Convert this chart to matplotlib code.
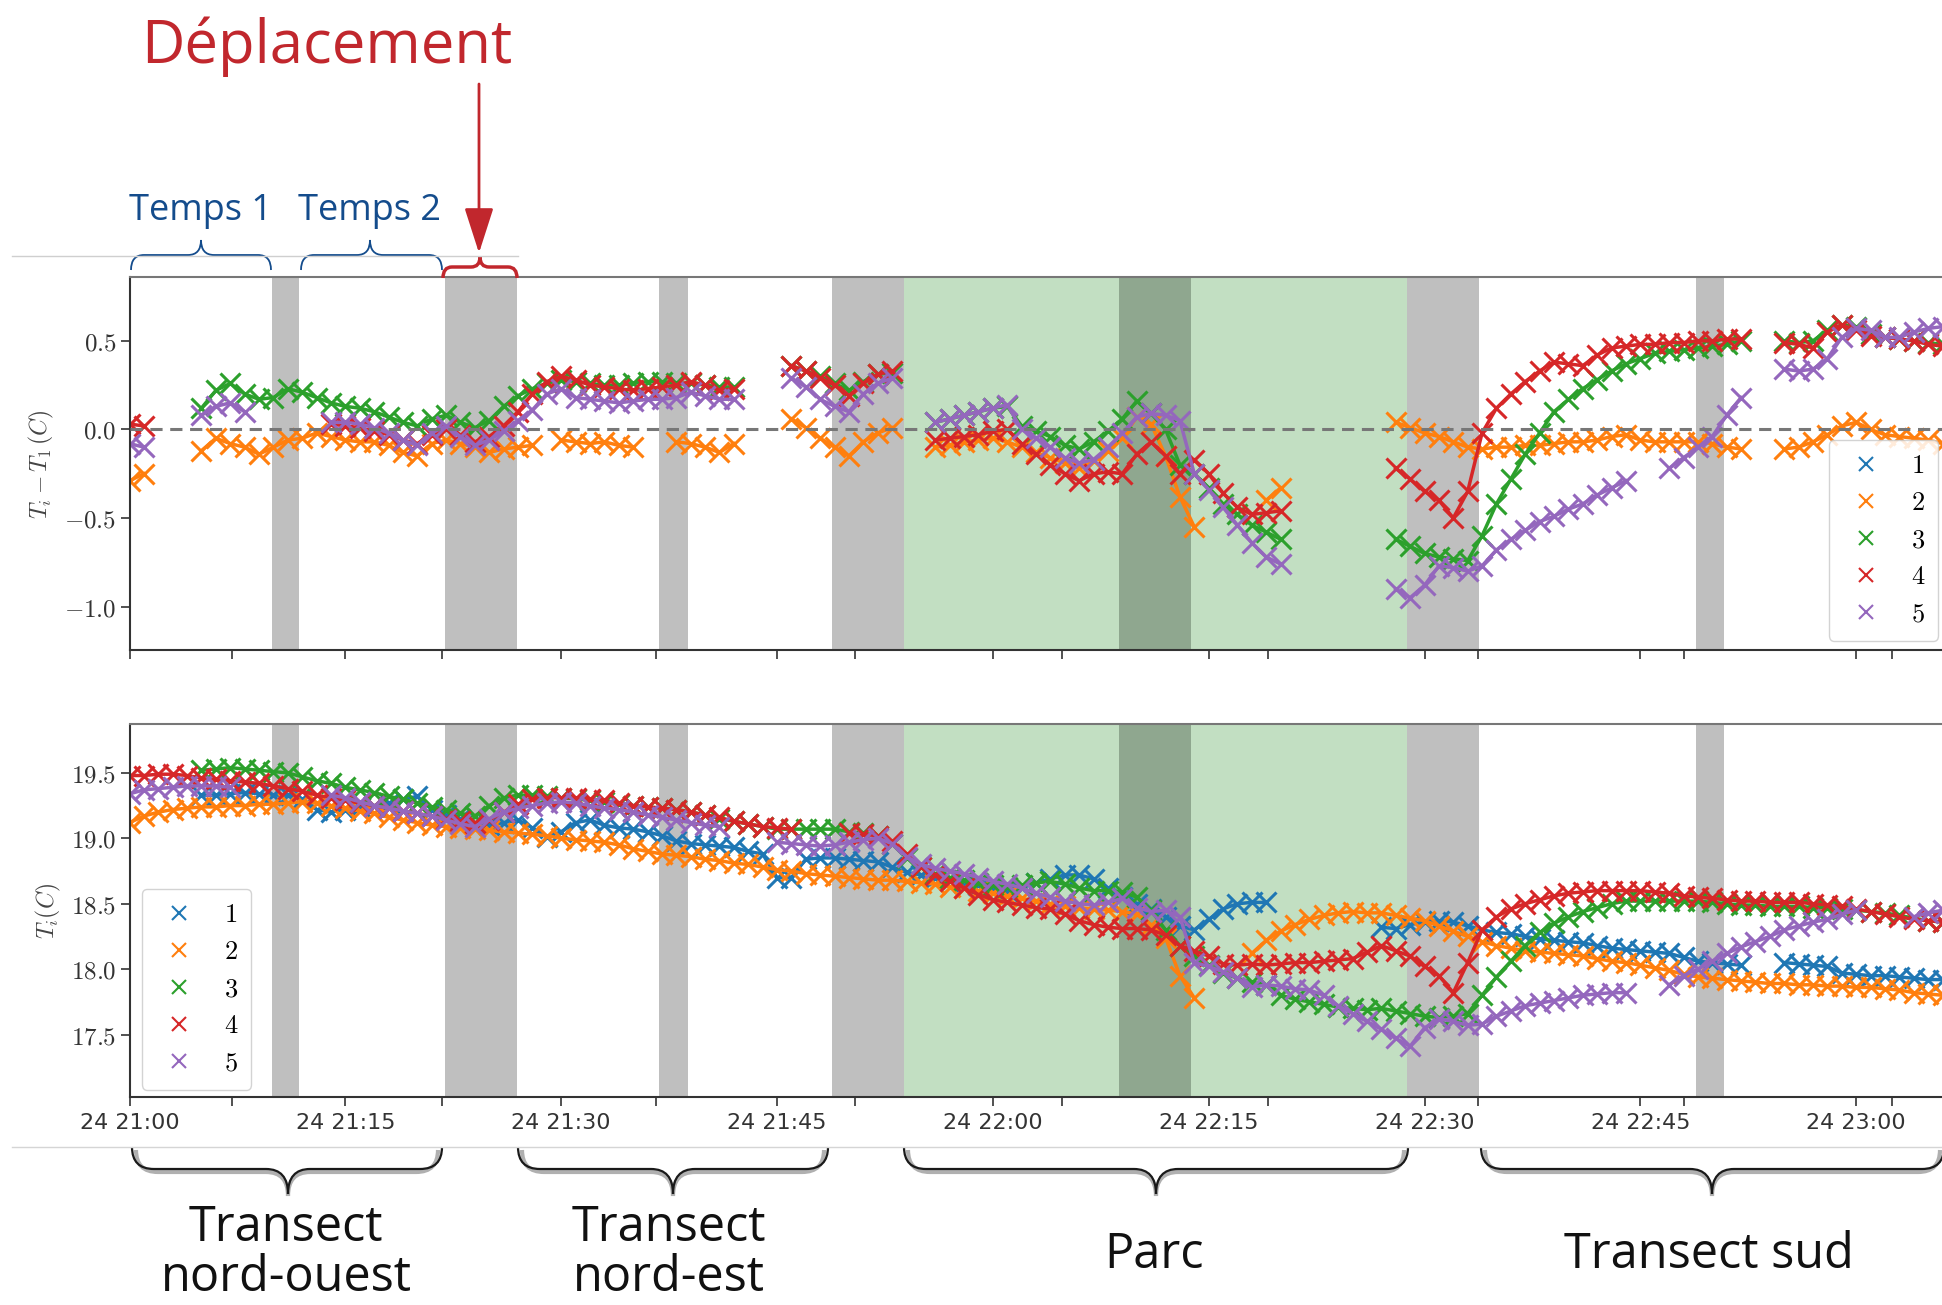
"""Two-panel temperature transect plot with the field-campaign annotations."""
import matplotlib

matplotlib.use("Agg")
import matplotlib.dates as mdates
import matplotlib.pyplot as plt
import numpy as np
from matplotlib.lines import Line2D
from matplotlib.patches import PathPatch
from matplotlib.path import Path
from matplotlib.ticker import FixedLocator, FuncFormatter

plt.rcParams["mathtext.fontset"] = "cm"

nan = float("nan")
START = np.datetime64("2019-07-24T21:00")
MINUTES = np.arange(127)  # one reading per minute, 21:00 -> 23:06

COLORS = ["#1f77b4", "#ff7f0e", "#2ca02c", "#d62728", "#9467bd"]
LABELS = ["1", "2", "3", "4", "5"]

# ---- top panel: T_i - T_1 (deg C) ----
TOP_2 = [
    -0.29, -0.25, nan, nan, nan, -0.12, -0.05, -0.08, -0.10, -0.14,
    -0.10, -0.06, -0.05, -0.02, -0.04, -0.06, -0.07, -0.07, -0.09, -0.13,
    -0.15, -0.08, -0.06, -0.08, -0.10, -0.13, -0.11, -0.10, -0.09, nan,
    -0.06, -0.07, -0.08, -0.07, -0.09, -0.10, nan, nan, -0.07, -0.08,
    -0.10, -0.13, -0.08, nan, nan, nan, 0.06, 0.01, -0.05, -0.10,
    -0.15, -0.07, -0.02, 0.01, nan, nan, -0.10, -0.09, -0.07, -0.06,
    -0.05, -0.07, -0.10, -0.13, -0.16, -0.19, -0.22, -0.18, -0.12, -0.05,
    0.07, 0.03, -0.15, -0.38, -0.55, nan, nan, nan, nan, -0.40,
    -0.33, nan, nan, nan, nan, nan, nan, nan, 0.04, 0.01,
    -0.02, -0.04, -0.07, -0.10, -0.11, -0.10, -0.10, -0.09, -0.09, -0.08,
    -0.07, -0.07, -0.06, -0.04, -0.03, -0.06, -0.07, -0.07, -0.07, -0.07,
    -0.08, -0.10, -0.11, nan, nan, -0.11, -0.10, -0.07, -0.03, 0.02,
    0.04, 0.00, -0.03, -0.04, -0.05, -0.06, -0.08,
]
TOP_3 = [
    nan, nan, nan, nan, nan, 0.12, 0.22, 0.26, 0.20, 0.17,
    0.18, 0.23, 0.21, 0.18, 0.15, 0.13, 0.12, 0.10, 0.07, 0.04,
    0.02, 0.06, 0.08, 0.04, 0.01, 0.05, 0.13, 0.19, 0.23, 0.26,
    0.28, 0.27, 0.26, 0.25, 0.25, 0.26, 0.27, 0.27, 0.26, 0.26,
    0.25, 0.24, 0.24, nan, nan, nan, 0.36, 0.33, 0.30, 0.26,
    0.22, 0.27, 0.31, 0.32, nan, nan, 0.04, 0.06, 0.08, 0.10,
    0.12, 0.13, 0.02, -0.01, -0.04, -0.09, -0.11, -0.07, -0.01, 0.06,
    0.16, 0.09, 0.00, -0.20, -0.25, -0.33, -0.42, -0.48, -0.54, -0.58,
    -0.62, nan, nan, nan, nan, nan, nan, nan, -0.62, -0.66,
    -0.70, -0.72, -0.73, -0.74, -0.60, -0.42, -0.28, -0.14, -0.02, 0.10,
    0.17, 0.23, 0.28, 0.33, 0.37, 0.40, 0.43, 0.44, 0.45, 0.46,
    0.47, 0.48, 0.50, nan, nan, 0.50, 0.49, 0.50, 0.56, 0.59,
    0.58, 0.54, 0.52, 0.51, 0.50, 0.49, 0.48,
]
TOP_4 = [
    0.03, 0.02, nan, nan, nan, nan, nan, nan, nan, nan,
    nan, nan, nan, nan, 0.03, 0.02, 0.01, -0.01, -0.03, -0.06,
    -0.08, -0.03, 0.00, -0.03, -0.07, -0.04, 0.02, 0.10, 0.20, 0.27,
    0.30, 0.28, 0.25, 0.24, 0.23, 0.22, 0.23, 0.24, 0.25, 0.27,
    0.25, 0.22, 0.23, nan, nan, nan, 0.36, 0.33, 0.29, 0.25,
    0.19, 0.26, 0.31, 0.33, nan, nan, -0.06, -0.05, -0.04, -0.03,
    -0.01, 0.00, -0.08, -0.14, -0.20, -0.25, -0.29, -0.25, -0.24, -0.25,
    -0.14, -0.07, -0.15, -0.25, -0.17, -0.25, -0.36, -0.44, -0.48, -0.47,
    -0.46, nan, nan, nan, nan, nan, nan, nan, -0.22, -0.28,
    -0.35, -0.40, -0.50, -0.35, -0.02, 0.12, 0.20, 0.27, 0.33, 0.38,
    0.37, 0.36, 0.42, 0.46, 0.47, 0.48, 0.48, 0.49, 0.49, 0.50,
    0.50, 0.51, 0.51, nan, nan, 0.49, 0.48, 0.46, 0.55, 0.59,
    0.56, 0.53, 0.52, 0.51, 0.50, 0.48, 0.47,
]
TOP_5 = [
    -0.08, -0.10, nan, nan, nan, 0.08, 0.13, 0.15, 0.10, nan,
    nan, nan, nan, nan, 0.04, 0.04, 0.03, 0.01, -0.02, -0.06,
    -0.09, -0.02, 0.02, -0.04, -0.09, -0.06, -0.01, 0.05, 0.11, 0.20,
    0.23, 0.18, 0.17, 0.16, 0.15, 0.16, 0.17, 0.17, 0.18, 0.21,
    0.19, 0.17, 0.17, nan, nan, nan, 0.29, 0.24, 0.17, 0.13,
    0.10, 0.20, 0.26, 0.29, nan, nan, 0.04, 0.06, 0.08, 0.10,
    0.12, 0.14, 0.00, -0.05, -0.10, -0.16, -0.19, -0.17, -0.10, -0.02,
    0.07, 0.09, 0.08, 0.05, -0.25, -0.34, -0.44, -0.54, -0.64, -0.72,
    -0.76, nan, nan, nan, nan, nan, nan, nan, -0.90, -0.95,
    -0.88, -0.77, -0.78, -0.80, -0.77, -0.68, -0.62, -0.57, -0.52, -0.49,
    -0.45, -0.42, -0.37, -0.33, -0.29, nan, nan, -0.22, -0.16, -0.10,
    -0.04, 0.08, 0.18, nan, nan, 0.34, 0.33, 0.34, 0.40, 0.52,
    0.57, 0.56, 0.52, 0.52, 0.55, 0.57, 0.58,
]

# ---- bottom panel: T_i (deg C) ----
BOT_1 = [
    nan, nan, nan, nan, nan, 19.33, 19.33, 19.34, 19.35, 19.34,
    19.33, 19.33, 19.30, 19.22, 19.20, 19.22, 19.24, 19.25, 19.27, 19.30,
    19.32, 19.22, 19.18, 19.15, 19.12, 19.10, 19.12, 19.14, 19.08, 19.01,
    19.05, 19.12, 19.14, 19.10, 19.08, 19.07, 19.05, 19.02, 18.98, 18.96,
    18.95, 18.94, 18.93, 18.90, 18.88, 18.70, 18.70, 18.84, 18.85, 18.85,
    18.84, 18.83, 18.82, 18.78, 18.74, 18.72, 18.70, 18.68, 18.66, 18.64,
    18.62, 18.60, 18.62, 18.66, 18.69, 18.72, 18.72, 18.69, 18.62, 18.55,
    18.50, 18.46, 18.40, 18.33, 18.30, 18.38, 18.46, 18.50, 18.51, 18.51,
    nan, nan, nan, nan, nan, nan, nan, 18.32, 18.31, 18.34,
    18.36, 18.37, 18.36, 18.33, 18.30, 18.28, 18.27, 18.25, 18.23, 18.22,
    18.21, 18.20, 18.18, 18.16, 18.15, 18.14, 18.13, 18.12, 18.09, 18.06,
    18.05, 18.04, 18.03, nan, nan, 18.05, 18.04, 18.03, 18.02, 17.97,
    17.96, 17.95, 17.95, 17.94, 17.93, 17.92, 17.92,
]
BOT_2 = [
    19.12, 19.17, 19.20, 19.22, 19.23, 19.24, 19.24, 19.25, 19.25, 19.26,
    19.26, 19.27, 19.28, 19.27, 19.25, 19.23, 19.21, 19.19, 19.16, 19.14,
    19.12, 19.10, 19.09, 19.08, 19.07, 19.06, 19.05, 19.04, 19.03, 19.02,
    19.00, 18.99, 18.98, 18.97, 18.95, 18.92, 18.90, 18.88, 18.87, 18.86,
    18.84, 18.83, 18.81, 18.80, 18.78, 18.76, 18.75, 18.73, 18.72, 18.71,
    18.70, 18.69, 18.68, 18.68, 18.67, 18.66, 18.65, 18.63, 18.62, 18.60,
    18.58, 18.56, 18.54, 18.52, 18.50, 18.48, 18.47, 18.46, 18.45, 18.44,
    18.42, 18.34, 18.24, 17.95, 17.78, nan, nan, nan, 18.12, 18.22,
    18.29, 18.34, 18.38, 18.41, 18.43, 18.44, 18.43, 18.43, 18.41, 18.39,
    18.37, 18.33, 18.29, 18.25, 18.21, 18.18, 18.16, 18.14, 18.13, 18.12,
    18.11, 18.10, 18.08, 18.06, 18.05, 18.03, 18.01, 17.99, 17.96, 17.94,
    17.93, 17.92, 17.91, 17.90, 17.89, 17.89, 17.88, 17.88, 17.87, 17.87,
    17.86, 17.86, 17.85, 17.84, 17.82, 17.81, 17.80,
]
BOT_3 = [
    nan, nan, nan, nan, nan, 19.52, 19.53, 19.54, 19.53, 19.52,
    19.51, 19.50, 19.47, 19.44, 19.42, 19.39, 19.37, 19.35, 19.32, 19.30,
    19.27, 19.24, 19.22, 19.19, 19.17, 19.25, 19.31, 19.33, 19.33, 19.32,
    19.31, 19.30, 19.29, 19.28, 19.26, 19.25, 19.24, 19.23, 19.22, 19.20,
    19.18, 19.15, 19.13, 19.11, 19.09, 19.07, 19.07, 19.07, 19.07, 19.07,
    19.05, 19.04, 19.02, 18.96, 18.85, 18.78, 18.73, 18.70, 18.68, 18.66,
    18.64, 18.63, 18.64, 18.66, 18.67, 18.65, 18.62, 18.60, 18.60, 18.59,
    18.55, 18.45, 18.30, 18.18, 18.10, 18.03, 17.97, 17.93, 17.90, 17.88,
    17.80, 17.77, 17.75, 17.73, 17.71, 17.70, 17.69, 17.70, 17.68, 17.66,
    17.64, 17.63, 17.64, 17.66, 17.80, 17.94, 18.06, 18.18, 18.28, 18.35,
    18.40, 18.44, 18.47, 18.50, 18.52, 18.52, 18.52, 18.52, 18.52, 18.52,
    18.51, 18.50, 18.49, 18.49, 18.48, 18.48, 18.48, 18.47, 18.47, 18.46,
    18.45, 18.44, 18.43, 18.41, 18.39, 18.37, 18.36,
]
BOT_4 = [
    19.48, 19.48, 19.49, 19.49, 19.48, 19.46, 19.45, 19.44, 19.43, 19.42,
    19.40, 19.38, 19.36, 19.33, 19.31, 19.29, 19.27, 19.25, 19.23, 19.21,
    19.19, 19.17, 19.15, 19.13, 19.12, 19.14, 19.20, 19.26, 19.30, 19.31,
    19.31, 19.31, 19.30, 19.29, 19.27, 19.25, 19.24, 19.23, 19.22, 19.20,
    19.18, 19.16, 19.13, 19.11, 19.09, 19.08, 19.07, nan, nan, nan,
    19.04, 19.03, 19.02, 18.98, 18.88, 18.78, 18.72, 18.67, 18.62, 18.57,
    18.53, 18.51, 18.49, 18.47, 18.46, 18.42, 18.37, 18.34, 18.32, 18.31,
    18.31, 18.30, 18.26, 18.18, 18.14, 18.10, 18.04, 18.03, 18.04, 18.03,
    18.04, 18.05, 18.05, 18.06, 18.07, 18.08, 18.13, 18.18, 18.14, 18.10,
    18.02, 17.95, 17.82, 18.05, 18.30, 18.40, 18.46, 18.50, 18.53, 18.56,
    18.58, 18.59, 18.60, 18.60, 18.60, 18.60, 18.59, 18.58, 18.56, 18.55,
    18.54, 18.53, 18.52, 18.52, 18.51, 18.51, 18.51, 18.50, 18.49, 18.48,
    18.46, 18.44, 18.42, 18.40, 18.38, 18.37, 18.36,
]
BOT_5 = [
    19.34, 19.37, 19.38, 19.39, 19.40, 19.40, 19.40, 19.39, nan, nan,
    nan, nan, nan, nan, 19.33, 19.31, 19.28, 19.25, 19.23, 19.21,
    19.19, 19.17, 19.14, 19.11, 19.09, 19.15, 19.20, 19.23, 19.25, 19.27,
    19.28, 19.27, 19.25, 19.23, 19.22, 19.20, 19.18, 19.16, 19.14, 19.12,
    19.10, 19.09, nan, nan, nan, 18.97, 18.96, 18.95, 18.94, 18.95,
    18.97, 18.99, 19.00, 18.96, 18.86, 18.80, 18.77, 18.75, 18.73, 18.70,
    18.67, 18.65, 18.62, 18.58, 18.55, 18.52, 18.50, 18.49, 18.51, 18.54,
    18.47, 18.44, 18.45, 18.40, 18.05, 18.02, 17.98, 17.93, 17.86, 17.88,
    17.87, 17.85, 17.84, 17.80, 17.72, 17.66, 17.60, 17.54, 17.47, 17.41,
    17.55, 17.62, 17.60, 17.57, 17.58, 17.64, 17.68, 17.72, 17.74, 17.76,
    17.78, 17.80, 17.81, 17.82, 17.82, nan, nan, 17.88, 17.95, 18.00,
    18.06, 18.12, 18.17, 18.21, 18.25, 18.30, 18.33, 18.36, 18.38, 18.42,
    18.45, nan, nan, nan, 18.40, 18.43, 18.45,
]

# shaded periods, minutes after 21:00
STOP_BANDS = [(9.9, 11.8), (21.9, 26.9), (36.8, 38.8), (48.8, 53.8),
              (88.8, 93.8), (108.9, 110.8)]
PARK_BAND = (53.8, 88.8)
PARK_STOP = (68.8, 73.8)
MINOR_TICKS = [7.1, 21.7, 36.6, 50.4, 64.8, 79.1, 93.7, 108.0, 122.5]

W, H = 1942, 1305


def at(minutes):
    return mdates.date2num(START + np.timedelta64(int(round(minutes * 60)), "s"))


def arr(values):
    a = np.array(values, dtype=float)
    assert a.size == MINUTES.size, a.size
    return a


def fig_box(x0, y0, x1, y1):
    """pixel box (top-left origin) -> figure fraction rect"""
    return [x0 / W, 1 - y1 / H, (x1 - x0) / W, (y1 - y0) / H]


def brace(ax, x0, x1, xm, y_end, y_mid, y_tip, r, **kw):
    verts = [(x0, y_end), (x0, y_mid), (x0 + r, y_mid),
             (xm - r, y_mid), (xm, y_mid), (xm, y_tip),
             (xm, y_mid), (xm + r, y_mid),
             (x1 - r, y_mid), (x1, y_mid), (x1, y_end)]
    codes = [Path.MOVETO, Path.CURVE3, Path.CURVE3, Path.LINETO,
             Path.CURVE3, Path.CURVE3, Path.CURVE3, Path.CURVE3,
             Path.LINETO, Path.CURVE3, Path.CURVE3]
    ax.add_patch(PathPatch(Path(verts, codes), fill=False, **kw))


def draw_series(ax, vals, color):
    y = arr(vals)
    # dense logger readings show up as a thick band of crosses
    ax.plot(times, y, color=color, lw=2.5, zorder=2)
    ax.plot(times, y, color=color, ls="none", marker="x", ms=15, mew=2.2, zorder=2)


times = mdates.date2num(START + MINUTES.astype("timedelta64[m]"))

fig = plt.figure(figsize=(W / 100, H / 100), dpi=100)
ax_top = fig.add_axes(fig_box(129.5, 277.4, 1990, 650.2))
ax_bot = fig.add_axes(fig_box(129.5, 724.5, 1990, 1097.3))

for ax in (ax_top, ax_bot):
    for a, b in STOP_BANDS:
        ax.axvspan(at(a), at(b), color="#bfbfbf", lw=0, zorder=0)
    ax.axvspan(at(PARK_BAND[0]), at(PARK_BAND[1]), color="#c2dfc2", lw=0, zorder=0)
    ax.axvspan(at(PARK_STOP[0]), at(PARK_STOP[1]), color="#8fa78f", lw=0, zorder=0)

for vals, c in zip([TOP_2, TOP_3, TOP_4, TOP_5], COLORS[1:]):
    draw_series(ax_top, vals, c)
ax_top.axhline(0, color="#777777", ls=(0, (4, 2.5)), lw=2.2, zorder=3)

for vals, c in zip([BOT_1, BOT_2, BOT_3, BOT_4, BOT_5], COLORS):
    draw_series(ax_bot, vals, c)

ax_top.set_ylim(-1.246, 0.858)
ax_top.set_yticks([-1.0, -0.5, 0.0, 0.5])
ax_bot.set_ylim(17.02, 19.87)
ax_bot.set_yticks([17.5, 18.0, 18.5, 19.0, 19.5])

for ax in (ax_top, ax_bot):
    ax.set_xlim(at(0), at(129.3))
    ax.xaxis.set_major_locator(mdates.MinuteLocator(byminute=[0, 15, 30, 45]))
    ax.xaxis.set_minor_locator(FixedLocator([at(m) for m in MINOR_TICKS]))
    ax.xaxis.set_major_formatter(mdates.DateFormatter("%d %H:%M"))
    ax.yaxis.set_major_formatter(FuncFormatter(lambda v, p: f"${v:.1f}$"))
    ax.tick_params(axis="both", which="both", direction="out", length=6.5,
                   width=1.2, color="#333333", labelcolor="#333333")
    ax.tick_params(axis="y", labelsize=18, pad=3)
    ax.tick_params(axis="x", labelsize=16, pad=5)
    ax.spines["right"].set_visible(False)
    ax.spines["top"].set_color("#777777")
    for s in ("left", "bottom", "top"):
        ax.spines[s].set_linewidth(1.5)
    ax.spines["left"].set_color("#333333")
    ax.spines["bottom"].set_color("#333333")

ax_top.tick_params(axis="x", labelbottom=False)
ax_top.set_ylabel(r"$T_i - T_1\,(C)$", fontsize=17, color="#444444", labelpad=6)
ax_bot.set_ylabel(r"$T_i(C)$", fontsize=17, color="#444444", labelpad=6)

handles = [Line2D([], [], ls="none", marker="x", ms=10, mew=1.5, color=c) for c in COLORS]
math_labels = [f"${s}$" for s in LABELS]
leg_kw = dict(loc="upper left", bbox_transform=fig.transFigure, fontsize=19,
              frameon=True, fancybox=True, framealpha=0.85, edgecolor="#cccccc",
              handlelength=1.8, labelspacing=0.42, borderaxespad=0, borderpad=0.5)
ax_top.legend(handles, math_labels, bbox_to_anchor=(1829 / W, 1 - 440 / H), **leg_kw)
ax_bot.legend(handles, math_labels, bbox_to_anchor=(142 / W, 1 - 889 / H), **leg_kw)

# ---- annotation layer in pixel coordinates ----
ov = fig.add_axes([0, 0, 1, 1])
ov.set_xlim(0, W)
ov.set_ylim(H, 0)
ov.axis("off")

BLUE = "#144c8c"
RED = "#c1272d"
ov.plot([12, 518], [256, 256], color="#cfcfcf", lw=1)
ov.plot([12, W], [1147, 1147], color="#d5d5d5", lw=1)

brace(ov, 131, 271, 201, 270, 255, 240, 13, color=BLUE, lw=1.3)
brace(ov, 301, 442, 370, 270, 255, 240, 13, color=BLUE, lw=1.3)
brace(ov, 443, 517, 480, 278, 267, 257, 9, color=RED, lw=2.5)
ov.text(201, 220, "Temps 1", ha="center", va="baseline", fontsize=26,
        family="Open Sans", color=BLUE)
ov.text(370, 220, "Temps 2", ha="center", va="baseline", fontsize=26,
        family="Open Sans", color=BLUE)
ov.text(327, 63, "Déplacement", ha="center", va="baseline", fontsize=43,
        family="Open Sans", color=RED)
ov.annotate("", xy=(479, 253), xytext=(479, 84),
            arrowprops=dict(arrowstyle="-|>,head_length=1.4,head_width=0.45",
                            color=RED, lw=2, mutation_scale=20, shrinkA=0, shrinkB=0))

for x0, x1, xm in [(132, 442, 288), (518, 828, 673), (904, 1408, 1156), (1481, 1944, 1712)]:
    # soft grey shadow under the brace, then the brace itself
    brace(ov, x0 + 4, x1 - 4, xm, 1150, 1172, 1196, 22, color="#b0b0b0", lw=3)
    brace(ov, x0, x1, xm, 1147, 1169, 1194, 22, color="#1a1a1a", lw=1.6)

text_kw = dict(ha="center", va="baseline", fontsize=35, family="Open Sans", color="#111111")
ov.text(286, 1241, "Transect", **text_kw)
ov.text(286, 1291, "nord-ouest", **text_kw)
ov.text(669, 1241, "Transect", **text_kw)
ov.text(669, 1291, "nord-est", **text_kw)
ov.text(1154, 1268, "Parc", **text_kw)
ov.text(1709, 1268, "Transect sud", **text_kw)

fig.savefig("out.png", dpi=100)
